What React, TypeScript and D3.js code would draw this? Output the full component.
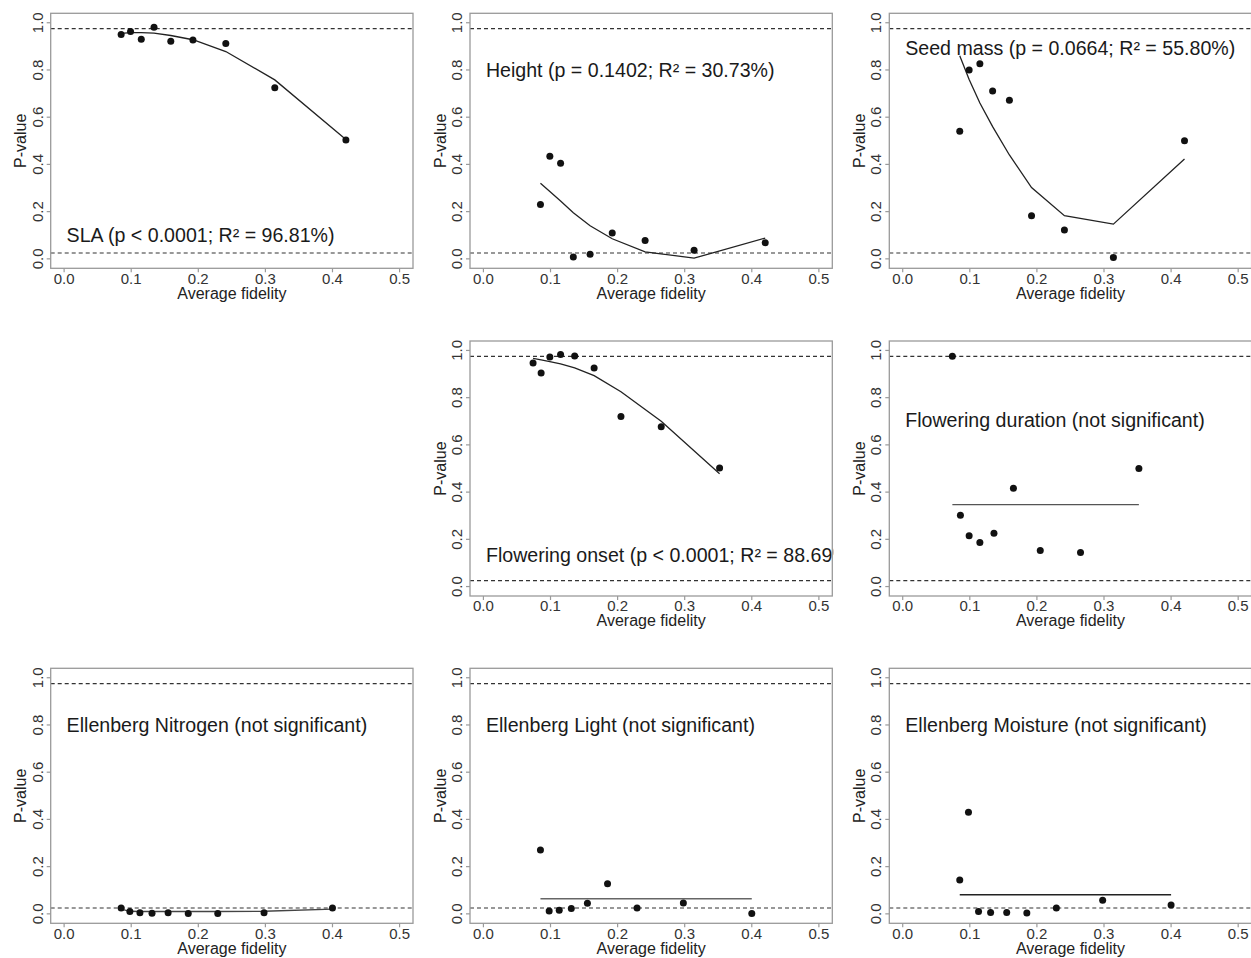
import React from 'react';
import * as d3 from 'd3';

// ---------- data ----------
const X_TOP = [0.085, 0.099, 0.115, 0.134, 0.159, 0.192, 0.241, 0.314, 0.42];
const X_MID = [0.074, 0.086, 0.099, 0.115, 0.136, 0.165, 0.205, 0.265, 0.352];
const X_BOT = [0.085, 0.098, 0.113, 0.131, 0.155, 0.185, 0.229, 0.298, 0.4];

const SLA_P = [0.95, 0.963, 0.93, 0.981, 0.922, 0.927, 0.912, 0.725, 0.503];
const SLA_FIT = [0.955, 0.958, 0.958, 0.956, 0.946, 0.928, 0.878, 0.758, 0.506];

const HEIGHT_P = [0.23, 0.435, 0.405, 0.008, 0.02, 0.11, 0.078, 0.036, 0.068];
const HEIGHT_FIT = [0.32, 0.285, 0.245, 0.195, 0.14, 0.085, 0.03, 0.003, 0.088];

const SEED_P = [0.54, 0.8, 0.826, 0.711, 0.672, 0.183, 0.122, 0.006, 0.5];
const SEED_FIT = [0.86, 0.76, 0.66, 0.56, 0.44, 0.302, 0.183, 0.147, 0.423];

const ONSET_P = [0.947, 0.904, 0.972, 0.983, 0.976, 0.926, 0.72, 0.677, 0.502];
const ONSET_FIT = [0.966, 0.96, 0.953, 0.943, 0.926, 0.893, 0.825, 0.7, 0.478];

const DURATION_P = [0.975, 0.302, 0.215, 0.187, 0.226, 0.416, 0.153, 0.144, 0.5];
const DURATION_FIT = [0.347, 0.347, 0.347, 0.347, 0.347, 0.347, 0.347, 0.347, 0.347];

const NITROGEN_P = [0.025, 0.01, 0.005, 0.003, 0.005, 0.002, 0.002, 0.005, 0.025];
const NITROGEN_FIT = [0.02, 0.011, 0.01, 0.01, 0.01, 0.01, 0.01, 0.011, 0.02];

const LIGHT_P = [0.27, 0.012, 0.015, 0.023, 0.045, 0.128, 0.025, 0.046, 0.002];
const LIGHT_FIT = [0.064, 0.064, 0.064, 0.064, 0.064, 0.064, 0.064, 0.064, 0.064];

const MOISTURE_P = [0.143, 0.43, 0.01, 0.006, 0.006, 0.004, 0.025, 0.058, 0.037];
const MOISTURE_FIT = [0.081, 0.081, 0.081, 0.081, 0.081, 0.081, 0.081, 0.081, 0.081];

const LABELS = [
  'SLA (p < 0.0001; R\u00B2 = 96.81%)',
  'Height (p = 0.1402; R\u00B2 = 30.73%)',
  'Seed mass (p = 0.0664; R\u00B2 = 55.80%)',
  'Flowering onset (p < 0.0001; R\u00B2 = 88.69%)',
  'Flowering duration (not significant)',
  'Ellenberg Nitrogen (not significant)',
  'Ellenberg Light (not significant)',
  'Ellenberg Moisture (not significant)',
];
// label baseline in data units
const LABEL_Y = [0.07, 0.772, 0.864, 0.105, 0.677, 0.772, 0.772, 0.772];

const X_TICKS = [0, 0.1, 0.2, 0.3, 0.4, 0.5];
const Y_TICKS = [0, 0.2, 0.4, 0.6, 0.8, 1.0];
const THRESHOLDS = [0.025, 0.975];

// ---------- layout ----------
const W = 1251;
const H = 958;
const COL_X = [0, 419.3, 838.6];
const ROW_Y = [0, 327.7, 655];
const BOX = { left: 50.7, right: 413, top: 13.3, bottom: 268.3 };
const FONT = "'Liberation Sans', Arial, Helvetica, sans-serif";

const PANELS = [
  { row: 0, col: 0, xs: X_TOP, p: SLA_P, fit: SLA_FIT, lc: '#222' },
  { row: 0, col: 1, xs: X_TOP, p: HEIGHT_P, fit: HEIGHT_FIT, lc: '#222' },
  { row: 0, col: 2, xs: X_TOP, p: SEED_P, fit: SEED_FIT, lc: '#222' },
  { row: 1, col: 1, xs: X_MID, p: ONSET_P, fit: ONSET_FIT, lc: '#222' },
  { row: 1, col: 2, xs: X_MID, p: DURATION_P, fit: DURATION_FIT, lc: '#555' },
  { row: 2, col: 0, xs: X_BOT, p: NITROGEN_P, fit: NITROGEN_FIT, lc: '#444' },
  { row: 2, col: 1, xs: X_BOT, p: LIGHT_P, fit: LIGHT_FIT, lc: '#666' },
  { row: 2, col: 2, xs: X_BOT, p: MOISTURE_P, fit: MOISTURE_FIT, lc: '#222' },
];

function Panel({ idx, d }: { idx: number; d: any }) {
  const x = d3.scaleLinear().domain([-0.02, 0.52]).range([BOX.left, BOX.right]);
  const y = d3.scaleLinear().domain([-0.04, 1.04]).range([BOX.bottom, BOX.top]);
  const pts = d.xs.map((xv: number, i: number) => [xv, d.p[i]]);
  const fitPts = d.xs.map((xv: number, i: number) => [xv, d.fit[i]]);
  const line = d3
    .line<number[]>()
    .x((v) => x(v[0]))
    .y((v) => y(v[1]));
  const clipId = `clip-${idx}`;
  const tx = COL_X[d.col];
  const ty = ROW_Y[d.row];
  return (
    <g transform={`translate(${tx},${ty})`}>
      <defs>
        <clipPath id={clipId}>
          <rect x={BOX.left} y={BOX.top} width={BOX.right - BOX.left + 1} height={BOX.bottom - BOX.top} />
        </clipPath>
      </defs>
      {THRESHOLDS.map((t) => (
        <line
          key={t}
          x1={BOX.left}
          x2={BOX.right}
          y1={y(t)}
          y2={y(t)}
          stroke="#333"
          strokeWidth={1.1}
          strokeDasharray="4,3"
        />
      ))}
      <path d={line(fitPts) || ''} fill="none" stroke={d.lc} strokeWidth={1.3} />
      {pts.map((v: number[], i: number) => (
        <circle key={i} cx={x(v[0])} cy={y(v[1])} r={3.5} fill="#111" />
      ))}
      <g clipPath={`url(#${clipId})`}>
        <text x={x(0) + 2.5} y={y(LABEL_Y[idx])} fontFamily={FONT} fontSize={19.6} fill="#1a1a1a">
          {LABELS[idx]}
        </text>
      </g>
      <rect
        x={BOX.left}
        y={BOX.top}
        width={BOX.right - BOX.left}
        height={BOX.bottom - BOX.top}
        fill="none"
        stroke="#9a9a9a"
        strokeWidth={1.3}
      />
      {X_TICKS.map((t) => (
        <g key={t}>
          <line x1={x(t)} x2={x(t)} y1={BOX.bottom} y2={BOX.bottom + 4} stroke="#9a9a9a" strokeWidth={1.2} />
          <text x={x(t)} y={283.8} textAnchor="middle" fontFamily={FONT} fontSize={15} fill="#333">
            {d3.format('.1f')(t)}
          </text>
        </g>
      ))}
      {Y_TICKS.map((t) => (
        <g key={t}>
          <line x1={BOX.left - 4} x2={BOX.left} y1={y(t)} y2={y(t)} stroke="#9a9a9a" strokeWidth={1.2} />
          <text
            transform={`translate(42.8,${y(t)}) rotate(-90)`}
            textAnchor="middle"
            fontFamily={FONT}
            fontSize={15}
            fill="#333"
          >
            {d3.format('.1f')(t)}
          </text>
        </g>
      ))}
      <text x={(x(0) + x(0.5)) / 2} y={298.5} textAnchor="middle" fontFamily={FONT} fontSize={16} fill="#222">
        Average fidelity
      </text>
      <text
        transform={`translate(26.4,${(BOX.top + BOX.bottom) / 2}) rotate(-90)`}
        textAnchor="middle"
        fontFamily={FONT}
        fontSize={16}
        fill="#222"
      >
        P-value
      </text>
    </g>
  );
}

export default function App() {
  return (
    <svg
      width={W}
      height={H}
      viewBox={`0 0 ${W} ${H}`}
      style={{ position: 'absolute', left: 0, top: 0, background: '#fff' }}
    >
      <rect x={0} y={0} width={W} height={H} fill="#fff" />
      {PANELS.map((d, i) => (
        <Panel key={i} idx={i} d={d} />
      ))}
    </svg>
  );
}
